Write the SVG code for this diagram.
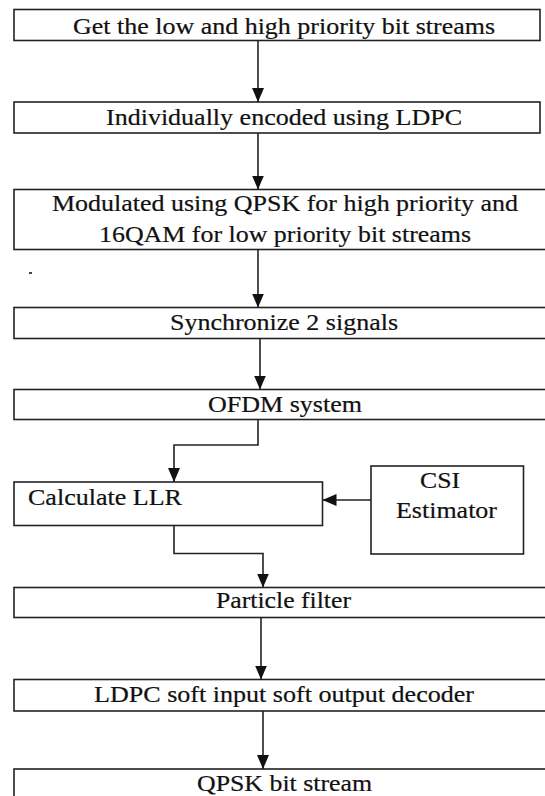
<svg xmlns="http://www.w3.org/2000/svg" width="545" height="796" viewBox="0 0 545 796">
  <style>
    .box { fill: #ffffff; stroke: #222222; stroke-width: 1.6; }
    .lbl { font-size: 23px; fill: #111111; stroke: #111111; stroke-width: 0.2; }
    .wire { fill: none; stroke: #222222; stroke-width: 1.6; }
  </style>
  <defs>
    <marker id="head" markerUnits="userSpaceOnUse" markerWidth="14" markerHeight="12" viewBox="0 0 14 12" refX="14" refY="6" orient="auto">
      <path d="M0,0 L14,6 L0,12 Z" fill="#111111"/>
    </marker>
  </defs>
  <rect width="545" height="796" fill="#ffffff"/>

  <g font-family="'Liberation Serif', 'DejaVu Serif', serif">
  <g id="n1">
    <rect class="box" x="14" y="9.5" width="526" height="31"/>
    <text class="lbl" x="73" y="33.5" textLength="422" lengthAdjust="spacingAndGlyphs">Get the low and high priority bit streams</text>
  </g>
  <g id="n2">
    <rect class="box" x="14" y="102" width="526" height="31"/>
    <text class="lbl" x="106" y="124.5" textLength="356" lengthAdjust="spacingAndGlyphs">Individually encoded using LDPC</text>
  </g>
  <g id="n3">
    <rect class="box" x="14" y="189.5" width="540" height="60"/>
    <text class="lbl" x="52" y="211" textLength="466" lengthAdjust="spacingAndGlyphs">Modulated using QPSK for high priority and</text>
    <text class="lbl" x="99" y="242" textLength="372" lengthAdjust="spacingAndGlyphs">16QAM for low priority bit streams</text>
  </g>
  <rect x="29" y="272" width="3" height="2" fill="#444444"/>
  <g id="n4">
    <rect class="box" x="14" y="307.5" width="540" height="31"/>
    <text class="lbl" x="170" y="329.5" textLength="228" lengthAdjust="spacingAndGlyphs">Synchronize 2 signals</text>
  </g>
  <g id="n5">
    <rect class="box" x="14" y="389.5" width="540" height="30"/>
    <text class="lbl" x="208" y="411.5" textLength="154" lengthAdjust="spacingAndGlyphs">OFDM system</text>
  </g>
  <g id="n6">
    <rect class="box" x="14" y="482" width="308.5" height="43.5"/>
    <text class="lbl" x="28" y="505" textLength="154" lengthAdjust="spacingAndGlyphs">Calculate LLR</text>
  </g>
  <g id="n7">
    <rect class="box" x="371" y="466" width="152.5" height="88"/>
    <text class="lbl" x="420" y="488" textLength="40" lengthAdjust="spacingAndGlyphs">CSI</text>
    <text class="lbl" x="396" y="518" textLength="101" lengthAdjust="spacingAndGlyphs">Estimator</text>
  </g>
  <g id="n8">
    <rect class="box" x="14" y="587.5" width="540" height="30"/>
    <text class="lbl" x="216" y="608" textLength="135" lengthAdjust="spacingAndGlyphs">Particle filter</text>
  </g>
  <g id="n9">
    <rect class="box" x="14" y="679.5" width="540" height="31.5"/>
    <text class="lbl" x="94" y="702" textLength="380" lengthAdjust="spacingAndGlyphs">LDPC soft input soft output decoder</text>
  </g>
  <g id="n10">
    <rect class="box" x="14" y="769" width="540" height="40"/>
    <text class="lbl" x="197" y="791" textLength="175" lengthAdjust="spacingAndGlyphs">QPSK bit stream</text>
  </g>
  </g>

  <g id="connectors">
    <path class="wire" d="M258,40.5 V102" marker-end="url(#head)"/>
    <path class="wire" d="M258,133 V189.5" marker-end="url(#head)"/>
    <path class="wire" d="M258,249.5 V307.5" marker-end="url(#head)"/>
    <path class="wire" d="M260,338.5 V389.5" marker-end="url(#head)"/>
    <path class="wire" d="M258,419.5 V445 H174 V482" marker-end="url(#head)"/>
    <path class="wire" d="M371,500 H322.5" marker-end="url(#head)"/>
    <path class="wire" d="M174,525.5 V553.5 H263 V587.5" marker-end="url(#head)"/>
    <path class="wire" d="M261,617.5 V679.5" marker-end="url(#head)"/>
    <path class="wire" d="M263,711 V769" marker-end="url(#head)"/>
  </g>
</svg>
